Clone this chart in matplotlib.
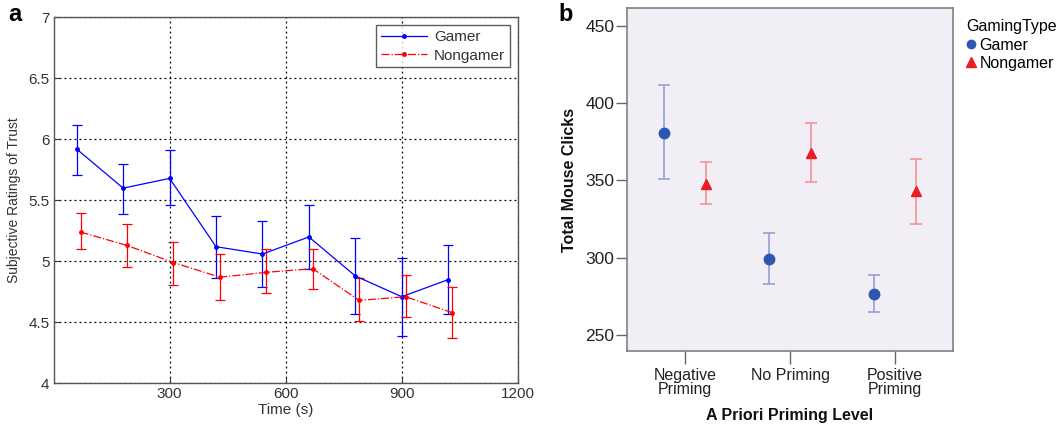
import numpy as np
import matplotlib
matplotlib.use('Agg')
import matplotlib.pyplot as plt
from matplotlib.lines import Line2D

plt.rcParams['font.family'] = ['Liberation Sans', 'DejaVu Sans']

# panel a: trust ratings over time
time_gamer = [60, 180, 300, 420, 540, 660, 780, 900, 1020]
time_nongamer = [70, 190, 310, 430, 550, 670, 790, 910, 1030]
trust_gamer = [5.92, 5.60, 5.68, 5.12, 5.06, 5.20, 4.88, 4.71, 4.85]
trust_gamer_lo = [5.71, 5.39, 5.46, 4.86, 4.79, 4.94, 4.57, 4.39, 4.57]
trust_gamer_hi = [6.12, 5.80, 5.91, 5.37, 5.33, 5.46, 5.19, 5.03, 5.13]
trust_nongamer = [5.24, 5.13, 4.99, 4.87, 4.91, 4.94, 4.68, 4.71, 4.58]
trust_nongamer_lo = [5.10, 4.95, 4.81, 4.68, 4.74, 4.77, 4.51, 4.54, 4.37]
trust_nongamer_hi = [5.40, 5.31, 5.16, 5.06, 5.10, 5.10, 4.86, 4.89, 4.79]

# panel b: mouse clicks by priming level
priming_levels = ['Negative\nPriming', 'No Priming', 'Positive\nPriming']
clicks_gamer = [381, 299, 276.5]
clicks_gamer_lo = [351, 283, 264.5]
clicks_gamer_hi = [411.5, 316, 289]
clicks_nongamer = [348, 368, 343]
clicks_nongamer_lo = [335, 349, 321.5]
clicks_nongamer_hi = [362, 387, 364]


def err(mean, lo, hi):
    mean = np.array(mean)
    return [mean - np.array(lo), np.array(hi) - mean]


fig = plt.figure(figsize=(10.6, 4.26), dpi=100)

# ---- a ----
ax = fig.add_axes([0.0505, 0.1002, 0.438, 0.859])
ax.errorbar(time_gamer, trust_gamer, yerr=err(trust_gamer, trust_gamer_lo, trust_gamer_hi),
            color='#0000ff', marker='.', markersize=5, lw=0.9, elinewidth=0.9,
            capsize=3.5, capthick=0.9)
ax.errorbar(time_nongamer, trust_nongamer,
            yerr=err(trust_nongamer, trust_nongamer_lo, trust_nongamer_hi),
            color='#ff0000', marker='.', markersize=5, lw=0.9, ls='-.', elinewidth=0.9,
            capsize=3.5, capthick=0.9)
ax.set_xlim(0, 1200)
ax.set_ylim(4, 7)
ax.set_xticks([300, 600, 900, 1200])
ax.set_yticks([4, 4.5, 5, 5.5, 6, 6.5, 7])
ax.set_yticklabels(['4', '4.5', '5', '5.5', '6', '6.5', '7'])
ax.grid(True, color='black', linestyle=(0, (1.5, 2.5)), linewidth=0.9)
ax.tick_params(direction='in', length=4, labelsize=11, colors='#333333', pad=3)
for s in ax.spines.values():
    s.set_color('#555555')
    s.set_linewidth(1.0)
ax.set_xlabel('Time (s)', fontsize=11, color='#333333', labelpad=1)
ax.set_ylabel('Subjective Ratings of Trust', fontsize=10, color='#333333', labelpad=5)
a_handles = [Line2D([], [], color='#0000ff', marker='.', markersize=5, lw=0.9),
             Line2D([], [], color='#ff0000', marker='.', markersize=5, lw=0.9, ls='-.')]
leg = ax.legend(a_handles, ['Gamer', 'Nongamer'], loc='upper right', fontsize=11,
                frameon=True, fancybox=False, edgecolor='#333333', borderpad=0.3,
                handlelength=3.0, handletextpad=0.5, labelspacing=0.3,
                borderaxespad=0, bbox_to_anchor=(0.983, 0.978))
leg.get_frame().set_linewidth(1.0)
for t in leg.get_texts():
    t.set_color('#333333')
fig.text(0.008, 0.965, 'a', fontsize=17, fontweight='bold', va='center')

# ---- b ----
bx = fig.add_axes([0.5912, 0.176, 0.3078, 0.8045])
bx.set_facecolor('#f1eff5')
pos = np.arange(len(priming_levels))
bx.errorbar(pos - 0.2, clicks_gamer, yerr=err(clicks_gamer, clicks_gamer_lo, clicks_gamer_hi),
            fmt='none', ecolor='#8d9ad2', elinewidth=1.1, capsize=4, capthick=1.1)
bx.errorbar(pos + 0.2, clicks_nongamer,
            yerr=err(clicks_nongamer, clicks_nongamer_lo, clicks_nongamer_hi),
            fmt='none', ecolor='#f08c8c', elinewidth=1.1, capsize=4, capthick=1.1)
bx.plot(pos - 0.2, clicks_gamer, 'o', color='#2c56b0', markersize=7.5, ls='none')
bx.plot(pos + 0.2, clicks_nongamer, '^', color='#ec1c24', markersize=7.5, ls='none')
bx.set_xlim(-0.555, 2.55)
bx.set_ylim(239.5, 461.5)
bx.set_yticks([250, 300, 350, 400, 450])
bx.set_xticks(pos)
bx.set_xticklabels(priming_levels, fontsize=11.5, color='#222222', linespacing=0.95)
bx.tick_params(axis='y', labelsize=12.5, colors='#222222', length=8, width=1.0,
               color='#666666', pad=1)
bx.tick_params(axis='x', length=9, width=1.0, color='#666666', pad=3)
for s in bx.spines.values():
    s.set_color('#777777')
    s.set_linewidth(1.1)
bx.set_ylabel('Total Mouse Clicks', fontsize=11.5, fontweight='bold', color='#111111',
              labelpad=6)
bx.set_xlabel('A Priori Priming Level', fontsize=11.5, fontweight='bold', color='#111111',
              labelpad=8)

handles = [Line2D([], [], marker='o', color='#2c56b0', ls='none', markersize=6),
           Line2D([], [], marker='^', color='#ec1c24', ls='none', markersize=6.5)]
lg = bx.legend(handles, ['Gamer', 'Nongamer'], title='GamingType', loc='upper left',
               bbox_to_anchor=(1.005, 1.0), frameon=False, fontsize=11.5,
               title_fontsize=11.5, handlelength=0.6, handletextpad=0.25,
               labelspacing=0.2, borderaxespad=0.3)
lg._legend_box.align = 'left'
fig.text(0.527, 0.965, 'b', fontsize=17, fontweight='bold', va='center')

fig.savefig('out.png', dpi=100)
